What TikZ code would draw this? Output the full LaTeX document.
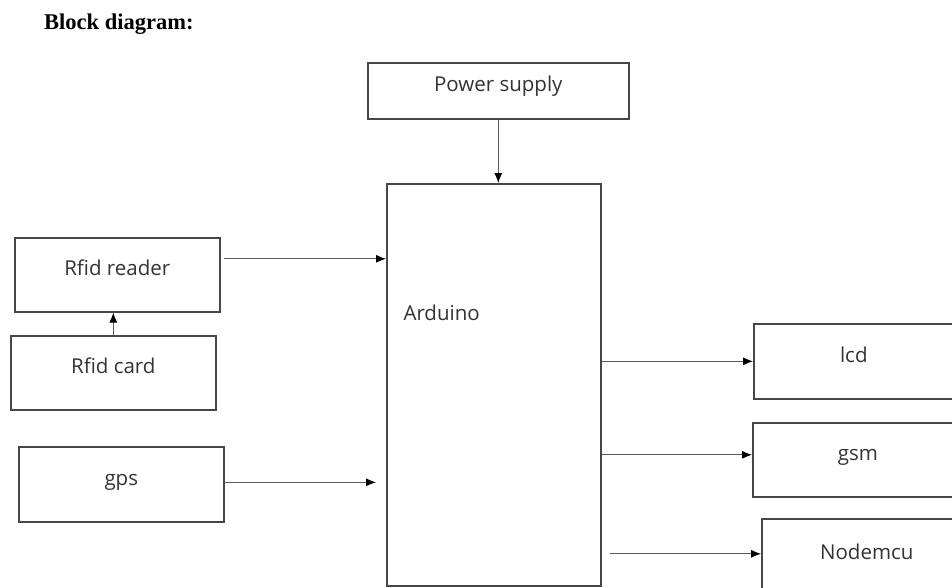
\documentclass[tikz,border=0pt]{standalone}
\usepackage{fontspec}
\setmainfont{Liberation Serif}
\newfontfamily\boxfont{Open Sans}
\usetikzlibrary{arrows.meta}

\definecolor{boxgray}{HTML}{474747}
\definecolor{wiregray}{HTML}{5A5A5A}

\begin{document}
\begin{tikzpicture}[x=1pt,y=-1pt,>={Latex[length=10pt,width=8pt,color=black]},
    block/.style={draw=boxgray,line width=1.6pt,anchor=north west,inner sep=0pt,
        text height=14pt,text depth=12pt,
        font=\boxfont\fontsize{20.5}{24}\selectfont,text=black!80},
    wire/.style={->,draw=wiregray,line width=0.9pt}]

            \useasboundingbox (0,0) rectangle (952,587);

            \node[anchor=base west,inner sep=0pt,font=\bfseries\fontsize{22.5}{26}\selectfont] (title) at (44,29) {Block diagram:};

            \node[block,minimum width=261pt,minimum height=56pt] (ps) at (367,62) {Power supply};
            \node[block,minimum width=214pt,minimum height=402pt] (ard) at (386,183) {};
            \node[anchor=west,font=\boxfont\fontsize{20.5}{24}\selectfont,text=black!80] (ardtxt) at (400,313) {Arduino};

            \node[block,minimum width=205pt,minimum height=74pt] (rr) at (14,237) {Rfid reader};
            \node[block,minimum width=205pt,minimum height=74pt] (rc) at (10,335) {Rfid card};
            \node[block,minimum width=205pt,minimum height=75pt] (gps) at (18,446) {gps};

            \node[block,minimum width=200pt,minimum height=75pt] (lcd) at (753,323) {lcd};
            \node[block,minimum width=210pt,minimum height=74pt] (gsm) at (752,422) {gsm};
            \node[block,minimum width=210pt,minimum height=80pt] (nm) at (761,518) {Nodemcu};

            % inputs
            \draw[wire] (ps.south) -- (ps.south |- ard.north);
            \draw[wire] (rc.north) -- (rc.north |- rr.south);
            \draw[wire,shorten <=3pt] ([yshift=16pt]rr.east) -- ([yshift=16pt]rr.east -| ard.west);
            \draw[wire,shorten >=10pt] ([yshift=2pt]gps.east) -- ([yshift=2pt]gps.east -| ard.west);

            % outputs
            \draw[wire] (lcd.west -| ard.east) -- (lcd.west);
            \draw[wire] ([yshift=5pt]gsm.west -| ard.east) -- ([yshift=5pt]gsm.west);
            \draw[wire,shorten <=8pt] ([yshift=5pt]nm.west -| ard.east) -- ([yshift=5pt]nm.west);

        \end{tikzpicture}
\end{document}
